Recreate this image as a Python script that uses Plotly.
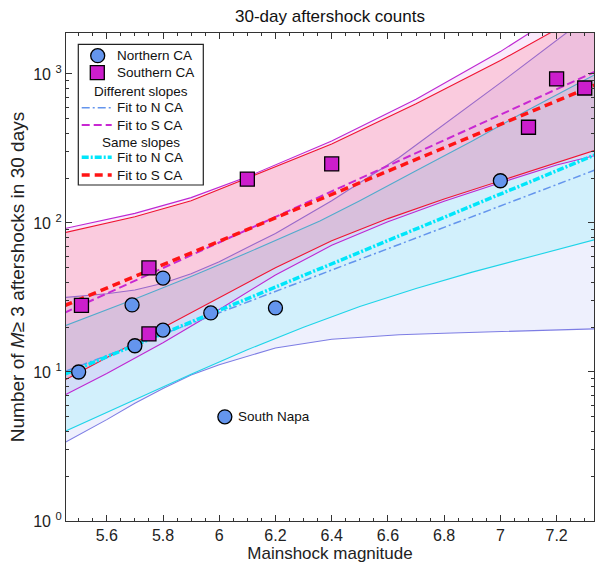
import plotly.graph_objects as go
import math

# ---------------- data ----------------
# Northern California events
n_mag = [5.50, 5.69, 5.70, 5.80, 5.80, 5.97, 6.20, 7.00]
n_cnt = [10.0, 28.2, 15.0, 42.7, 19.1, 24.9, 26.9, 192]
napa_mag = [6.02]
napa_cnt = [5.0]
# Southern California events
s_mag = [5.51, 5.75, 5.75, 6.10, 6.40, 7.10, 7.20, 7.30]
s_cnt = [28.0, 49.9, 18.0, 197, 249, 439, 926, 805]

# fitted lines (end points)
fit_mag = [5.45, 7.34]
fit_n_diff = [10.07, 228]
fit_s_diff = [25.0, 1042]
fit_n_same = [9.65, 288]
fit_s_same = [27.9, 849]

# confidence bands: N CA, different slopes (blue)
nd_up_mag = [5.45, 5.6, 5.7, 5.8, 5.9, 6.0, 6.2, 6.4, 6.64, 6.8, 7.0, 7.245, 7.34]
nd_up_cnt = [31.6, 33.5, 35.5, 39.4, 45.7, 55.0, 85.1, 141, 275, 457, 871, 1950, 2630]
nd_lo_mag = [5.45, 5.6, 5.7, 5.8, 5.9, 6.0, 6.2, 6.4, 6.64, 6.8, 7.0, 7.245, 7.34]
nd_lo_cnt = [3.35, 4.79, 6.17, 7.76, 9.55, 11.2, 14.5, 16.6, 17.8, 18.2, 18.6, 19.3, 19.5]
# N CA, same slopes (cyan)
ns_up_mag = [5.45, 5.7, 5.9, 6.1, 6.358, 6.5, 6.7, 6.9, 7.1, 7.34]
ns_up_cnt = [20.4, 30.9, 43.7, 63.1, 103, 141, 224, 355, 575, 1000]
ns_lo_mag = [5.45, 5.7, 5.9, 6.1, 6.3, 6.5, 6.7, 6.9, 7.1, 7.34]
ns_lo_cnt = [3.98, 6.53, 9.66, 14.1, 20.0, 27.5, 36.3, 46.8, 58.9, 77.6]
# S CA, different slopes (magenta)
sd_up_mag = [5.45, 5.7, 5.9, 6.1, 6.4, 6.7, 7.0, 7.1, 7.34]
sd_up_cnt = [91.8, 116, 148, 204, 355, 676, 1413, 1862, 3631]
sd_lo_mag = [5.45, 5.6, 5.8, 6.0, 6.2, 6.4, 6.6, 6.8, 7.0, 7.2, 7.34]
sd_lo_cnt = [7.0, 9.77, 15.7, 26.3, 44.7, 70.8, 102, 140, 186, 245, 285]
# S CA, same slopes (red)
ss_up_mag = [5.45, 5.7, 5.9, 6.1, 6.4, 6.7, 7.0, 7.2, 7.34]
ss_up_cnt = [86, 110, 141, 200, 339, 631, 1230, 1995, 2818]
ss_lo_mag = [5.45, 5.6, 5.8, 6.0, 6.2, 6.4, 6.6, 6.8, 7.0, 7.2, 7.34]
ss_lo_cnt = [8.81, 12.6, 20.0, 31.6, 50.1, 75.9, 107, 145, 193, 254, 309]

x_ticks = [5.6, 5.8, 6.0, 6.2, 6.4, 6.6, 6.8, 7.0, 7.2]
x_tick_text = ["5.6", "5.8", "6", "6.2", "6.4", "6.6", "6.8", "7", "7.2"]
y_ticks = [1, 10, 100, 1000]
y_tick_text = ["10 <sup>0</sup>", "10 <sup>1</sup>", "10 <sup>2</sup>", "10 <sup>3</sup>"]

# ---------------- styling ----------------
FONT = "Liberation Sans, Arial, Helvetica, sans-serif"
C_BLUE_LINE = "rgb(125,125,228)"
C_CYAN_LINE = "rgb(30,212,232)"
C_MAG_LINE = "rgb(190,40,210)"
C_RED_LINE = "rgb(240,20,50)"
C_CIRCLE = "rgb(100,149,237)"
C_SQUARE = "rgb(204,30,204)"

W, H = 596, 566
ML, MR, MT, MB = 66, 2, 33, 45
PW, PH = W - ML - MR, H - MT - MB


def px(x):
    return (x - ML) / PW


def py(y):
    return (H - MB - y) / PH


fig = go.Figure()


def band(up_m, up_c, lo_m, lo_c, line_color, fill_color):
    xs = list(up_m) + list(lo_m)[::-1] + [up_m[0]]
    ys = list(up_c) + list(lo_c)[::-1] + [up_c[0]]
    fig.add_trace(go.Scatter(x=xs, y=ys, mode="lines", fill="toself",
                             fillcolor=fill_color,
                             line=dict(color=line_color, width=1.1),
                             hoverinfo="skip", showlegend=False))


band(nd_up_mag, nd_up_cnt, nd_lo_mag, nd_lo_cnt, C_BLUE_LINE, "rgba(90,110,235,0.10)")
band(ns_up_mag, ns_up_cnt, ns_lo_mag, ns_lo_cnt, C_CYAN_LINE, "rgba(140,240,252,0.28)")
band(sd_up_mag, sd_up_cnt, sd_lo_mag, sd_lo_cnt, C_MAG_LINE, "rgba(210,80,220,0.12)")
band(ss_up_mag, ss_up_cnt, ss_lo_mag, ss_lo_cnt, C_RED_LINE, "rgba(255,30,60,0.15)")

# fit lines
fig.add_trace(go.Scatter(x=fit_mag, y=fit_n_diff, mode="lines", showlegend=False,
                         line=dict(color="rgb(100,149,237)", width=1.5, dash="8px,3px,2px,3px")))
fig.add_trace(go.Scatter(x=fit_mag, y=fit_s_diff, mode="lines", showlegend=False,
                         line=dict(color="rgb(200,40,210)", width=2, dash="8px,4px")))
fig.add_trace(go.Scatter(x=fit_mag, y=fit_n_same, mode="lines", showlegend=False,
                         line=dict(color="rgb(0,230,250)", width=3.5, dash="7px,2px,2px,2px")))
fig.add_trace(go.Scatter(x=fit_mag, y=fit_s_same, mode="lines", showlegend=False,
                         line=dict(color="rgb(255,20,20)", width=3.5, dash="8px,5px")))

# data points
fig.add_trace(go.Scatter(x=n_mag + napa_mag, y=n_cnt + napa_cnt, mode="markers",
                         name="Northern CA", showlegend=False,
                         marker=dict(symbol="circle", size=14, color=C_CIRCLE,
                                     line=dict(color="black", width=1.3))))
fig.add_trace(go.Scatter(x=s_mag, y=s_cnt, mode="markers", name="Southern CA",
                         showlegend=False,
                         marker=dict(symbol="square", size=14, color=C_SQUARE,
                                     line=dict(color="black", width=1.3))))

annotations = [
    dict(x=napa_mag[0], y=math.log10(napa_cnt[0]), xref="x", yref="y",
         text="South Napa", showarrow=False, xanchor="left", yanchor="middle",
         xshift=11, font=dict(family=FONT, size=13.5, color="#111")),
]

# ---------------- manual legend ----------------
shapes = []
shapes.append(dict(type="rect", xref="paper", yref="paper",
                   x0=px(78.3), x1=px(203.3), y0=py(185), y1=py(44.3),
                   line=dict(color="#222", width=1.2), fillcolor="white", layer="above"))
r = 7
shapes.append(dict(type="circle", xref="paper", yref="paper",
                   x0=px(97.7 - r), x1=px(97.7 + r), y0=py(55.7 + r), y1=py(55.7 - r),
                   line=dict(color="black", width=1.3), fillcolor=C_CIRCLE, layer="above"))
shapes.append(dict(type="rect", xref="paper", yref="paper",
                   x0=px(97.3 - r), x1=px(97.3 + r), y0=py(72.7 + r), y1=py(72.7 - r),
                   line=dict(color="black", width=1.3), fillcolor=C_SQUARE, layer="above"))
leg_lines = [
    (107.7, "rgb(100,149,237)", 1.5, "8px,3px,2px,3px"),
    (125.0, "rgb(200,40,210)", 2, "8px,4px"),
    (157.3, "rgb(0,230,250)", 3.5, "7px,2px,2px,2px"),
    (175.0, "rgb(255,20,20)", 3.5, "8px,5px"),
]
for yy, col, wd, ds in leg_lines:
    shapes.append(dict(type="line", xref="paper", yref="paper",
                       x0=px(81.7), x1=px(111.7), y0=py(yy), y1=py(yy),
                       line=dict(color=col, width=wd, dash=ds), layer="above"))

leg_texts = [
    (55.7, "Northern CA"), (72.7, "Southern CA"), (107.7, "Fit to N CA"),
    (125.0, "Fit to S CA"), (157.3, "Fit to N CA"), (175.0, "Fit to S CA"),
]
for yy, t in leg_texts:
    annotations.append(dict(x=px(114.5), y=py(yy), xref="paper", yref="paper", text=t,
                            showarrow=False, xanchor="left", yanchor="middle",
                            font=dict(family=FONT, size=13.5, color="#111")))
for yy, t in [(91.7, "Different slopes"), (142.3, "Same slopes")]:
    annotations.append(dict(x=px(140.5), y=py(yy), xref="paper", yref="paper", text=t,
                            showarrow=False, xanchor="center", yanchor="middle",
                            font=dict(family=FONT, size=13.5, color="#111")))

axis_common = dict(showline=True, linecolor="#333", linewidth=1.3, mirror="allticks",
                   ticks="inside", ticklen=6, tickcolor="#333", tickwidth=1,
                   showgrid=False, zeroline=False, automargin=False,
                   tickfont=dict(family=FONT, size=16, color="#222"))

fig.update_layout(
    width=W, height=H,
    margin=dict(l=ML, r=MR, t=MT, b=MB),
    paper_bgcolor="white", plot_bgcolor="white",
    title=dict(text="30-day aftershock counts", x=px(330), xref="paper", xanchor="center",
               y=1 - 16 / H, yref="container", yanchor="middle",
               font=dict(family=FONT, size=17, color="#111")),
    xaxis=dict(range=[5.455, 7.333], tickvals=x_ticks, ticktext=x_tick_text,
               minor=dict(ticks="inside", dtick=0.05, tick0=5.4, ticklen=3, tickcolor="#333"),
               title=dict(text="Mainshock magnitude", standoff=3,
                          font=dict(family=FONT, size=17, color="#222")),
               **axis_common),
    yaxis=dict(type="log", range=[0, 3.275], tickvals=y_ticks, ticktext=y_tick_text,
               minor=dict(ticks="inside", tickvals=[2, 3, 4, 5, 6, 7, 8, 9, 20, 30, 40, 50, 60, 70, 80, 90,
                                                    200, 300, 400, 500, 600, 700, 800, 900, 2000],
                          ticklen=3, tickcolor="#333"),
               title=dict(text="Number of <i>M</i>≥ 3 aftershocks in 30 days", standoff=3,
                          font=dict(family=FONT, size=19, color="#222")),
               **axis_common),
    shapes=shapes,
    annotations=annotations,
    showlegend=False,
)

fig.write_html("out.html")
